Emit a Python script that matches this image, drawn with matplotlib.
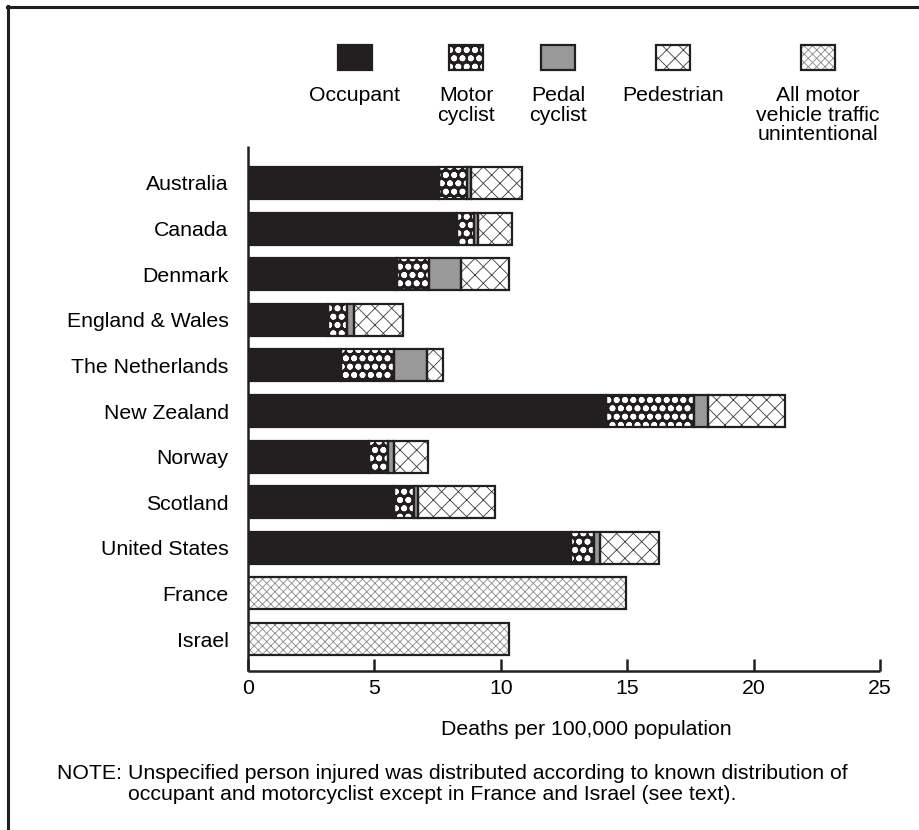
import numpy as np
import matplotlib.pyplot as plt
from matplotlib.patches import Rectangle
from matplotlib.lines import Line2D

plt.rcParams['font.family'] = ['Liberation Sans', 'DejaVu Sans']

countries = ['Australia', 'Canada', 'Denmark', 'England & Wales', 'The Netherlands',
             'New Zealand', 'Norway', 'Scotland', 'United States', 'France', 'Israel']

# deaths per 100,000 population by type of road user
occupant = [7.55, 8.27, 5.88, 3.15, 3.67, 14.16, 4.77, 5.76, 12.79, 0, 0]
motorcyclist = [1.12, 0.68, 1.27, 0.78, 2.11, 3.49, 0.75, 0.79, 0.88, 0, 0]
pedal_cyclist = [0.15, 0.13, 1.26, 0.26, 1.32, 0.54, 0.27, 0.16, 0.24, 0, 0]
pedestrian = [2.03, 1.35, 1.93, 1.95, 0.62, 3.07, 1.35, 3.05, 2.33, 0, 0]
all_traffic = [0, 0, 0, 0, 0, 0, 0, 0, 0, 14.95, 10.34]

legend_labels = ['Occupant', 'Motor\ncyclist', 'Pedal\ncyclist', 'Pedestrian',
                 'All motor\nvehicle traffic\nunintentional']

INK = '#231f20'
FS = 15.3

# fill, hatch, hatch colour, hatch linewidth for each series
styles = [
    dict(face=INK, hatch=None, hc=INK, hlw=1.0),
    dict(face=INK, hatch='oo', hc='white', hlw=1.8),
    dict(face='#999999', hatch=None, hc='#999999', hlw=1.0),
    dict(face='white', hatch='xx', hc='#3a3a3a', hlw=0.6),
    dict(face='white', hatch='xxxx', hc='#8a8a8a', hlw=0.6),
]
series = [occupant, motorcyclist, pedal_cyclist, pedestrian, all_traffic]

W, H = 919, 830
fig = plt.figure(figsize=(W / 100, H / 100), dpi=100)
ax = fig.add_axes([248 / W, 1 - 671 / H, 632 / W, 525 / H])

y = np.arange(len(countries))
left = np.zeros(len(countries))


def set_hlw(patches, lw):
    for p in patches:
        if hasattr(p, 'set_hatch_linewidth'):
            p.set_hatch_linewidth(lw)


for vals, st in zip(series, styles):
    vals = np.array(vals)
    mask = vals > 0
    with plt.rc_context({'hatch.linewidth': st['hlw']}):
        bars = ax.barh(y[mask], vals[mask], left=left[mask], height=0.70,
                       color=st['face'], edgecolor=st['hc'], linewidth=0,
                       hatch=st['hatch'], zorder=2)
    set_hlw(bars, st['hlw'])
    # dark outline around every segment
    ax.barh(y[mask], vals[mask], left=left[mask], height=0.70, fill=False,
            edgecolor=INK, linewidth=1.6, zorder=3)
    left = left + vals

ax.set_xlim(0, 25)
ax.set_ylim(10.70, -0.81)
ax.set_xticks(np.arange(0, 26, 5))
ax.set_yticks(y)
ax.set_yticklabels(countries, fontsize=FS)
ax.tick_params(axis='x', direction='in', length=9, width=1.8, color=INK,
               labelsize=FS, pad=6)
ax.tick_params(axis='y', length=0, pad=14)
for s in ['top', 'right']:
    ax.spines[s].set_visible(False)
for s in ['left', 'bottom']:
    ax.spines[s].set_linewidth(1.8)
    ax.spines[s].set_color(INK)
    ax.spines[s].set_capstyle('butt')

fig.text(586 / W, 1 - 729 / H, 'Deaths per 100,000 population', fontsize=FS,
         ha='center', va='center')

# legend: swatch above each label
leg_x = [355, 466, 558, 673, 818]
for cx, lab, st in zip(leg_x, legend_labels, styles):
    with plt.rc_context({'hatch.linewidth': st['hlw']}):
        r = Rectangle(((cx - 17) / W, 1 - 70 / H), 34 / W, 25 / H,
                      transform=fig.transFigure, facecolor=st['face'],
                      edgecolor=st['hc'], linewidth=0, hatch=st['hatch'])
    set_hlw([r], st['hlw'])
    fig.add_artist(r)
    fig.add_artist(Rectangle(((cx - 17) / W, 1 - 70 / H), 34 / W, 25 / H,
                             transform=fig.transFigure, fill=False,
                             edgecolor=INK, linewidth=1.6))
    fig.text(cx / W, 1 - 86 / H, lab, fontsize=FS, ha='center', va='top',
             linespacing=1.05)

# note: body lines hang after the "NOTE: " lead-in
lead = fig.text(57 / W, 1 - 764 / H, 'NOTE: ', fontsize=FS, ha='left', va='top')
renderer = fig.canvas.get_renderer()
lead_w = lead.get_window_extent(renderer).width
note_body = ('Unspecified person injured was distributed according to known distribution of\n'
             'occupant and motorcyclist except in France and Israel (see text).')
fig.text((57 + lead_w) / W, 1 - 764 / H, note_body, fontsize=FS, ha='left',
         va='top', linespacing=1.1)

# frame along the top and left edges
fig.add_artist(Line2D([7.5 / W, 7.5 / W], [0, 1 - 6.5 / H], transform=fig.transFigure,
                      color=INK, linewidth=2.2))
fig.add_artist(Line2D([6.5 / W, 1], [1 - 7.5 / H, 1 - 7.5 / H], transform=fig.transFigure,
                      color=INK, linewidth=2.2))

fig.savefig('out.png', dpi=100)
